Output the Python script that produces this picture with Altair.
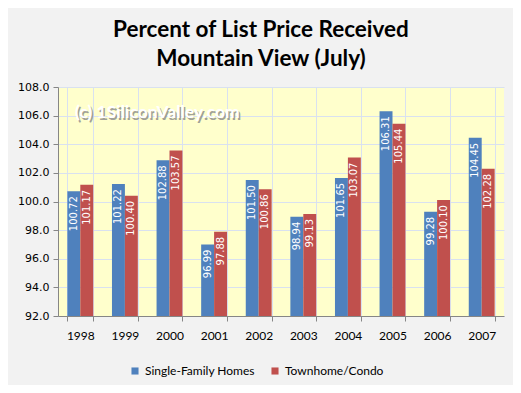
import altair as alt
import pandas as pd

years = ["1998", "1999", "2000", "2001", "2002", "2003", "2004", "2005", "2006", "2007"]
single_family = [100.72, 101.22, 102.88, 96.99, 101.50, 98.94, 101.65, 106.31, 99.28, 104.45]
townhome = [101.17, 100.40, 103.57, 97.88, 100.86, 99.13, 103.07, 105.44, 100.10, 102.28]
series_names = ["Single-Family Homes", "Townhome/Condo"]
series_colors = ["#4f81bd", "#c0504d"]
y_ticks = [92, 94, 96, 98, 100, 102, 104, 106, 108]
title_lines = ["Percent of List Price Received", "Mountain View (July)"]
watermark = ["(c) 1SiliconValley.com"]

rows = []
for i, yr in enumerate(years):
    rows.append({"year": yr, "series": series_names[0], "value": single_family[i]})
    rows.append({"year": yr, "series": series_names[1], "value": townhome[i]})
df = pd.DataFrame(rows)

grid_color = "#d9e1f0"
axis_color = "#868686"

x_axis = alt.Axis(labelAngle=0, tickBand="extent", grid=True, gridColor=grid_color,
                  labelFont="Lato", labelFontSize=12, labelColor="#000000",
                  labelPadding=9, tickColor=axis_color, tickSize=5,
                  domainColor=axis_color)
y_axis = alt.Axis(values=y_ticks, format=".1f", grid=True, gridColor=grid_color,
                  labelFont="DejaVu Sans", labelFontSize=11, labelColor="#000000",
                  tickColor=axis_color, tickSize=5, domainColor=axis_color,
                  labelPadding=4, labelOverlap=False)
x_scale = alt.Scale(paddingInner=0.42, paddingOuter=0.21)
y_scale = alt.Scale(domain=[92, 108], zero=False, nice=False)
xo_enc = alt.XOffset("series:N", sort=series_names)

base = alt.Chart(df)

bars = base.mark_bar().encode(
    x=alt.X("year:N", title=None, sort=years, scale=x_scale, axis=x_axis),
    xOffset=xo_enc,
    y=alt.Y("value:Q", title=None, scale=y_scale, axis=y_axis),
    y2=alt.datum(92),
    color=alt.Color("series:N", sort=series_names,
                    scale=alt.Scale(domain=series_names, range=series_colors),
                    legend=alt.Legend(title=None, orient="none", legendX=71, legendY=278,
                                      direction="horizontal", symbolType="square",
                                      symbolSize=50, symbolStrokeWidth=0,
                                      labelFont="Lato", labelFontSize=12,
                                      labelColor="#000000", columnPadding=14)),
)

labels = base.mark_text(angle=270, align="right", baseline="middle", dx=-5,
                        color="white", font="DejaVu Sans", fontSize=10).encode(
    x=alt.X("year:N", title=None, sort=years, scale=x_scale, axis=x_axis),
    xOffset=xo_enc,
    y=alt.Y("value:Q", title=None, scale=y_scale, axis=y_axis),
    text=alt.Text("value:Q", format=".2f"),
)

wm_df = pd.DataFrame({"t": watermark})
wm_shadow = alt.Chart(wm_df).mark_text(align="left", baseline="middle", font="Lato",
                                       fontWeight="bold", fontSize=17.5, color="#8a8a8a",
                                       opacity=0.8).encode(
    x=alt.value(18.5), y=alt.value(27.5), text="t:N")
wm = alt.Chart(wm_df).mark_text(align="left", baseline="middle", font="Lato",
                                fontWeight="bold", fontSize=17.5, color="#ffffff").encode(
    x=alt.value(17), y=alt.value(26), text="t:N")

chart = alt.layer(bars, labels, wm_shadow, wm).properties(
    width=446, height=229,
    padding={"left": 50, "top": 79, "right": 9, "bottom": 69},
    autosize="none",
    title=alt.TitleParams(title_lines, anchor="middle", dx=-20, dy=27, offset=20,
                          font="Lato", fontSize=22.5, fontWeight="bold",
                          color="#000000", lineHeight=29, baseline="alphabetic"),
).configure(background="#f2f2f2").configure_view(fill="#ffffcc", strokeWidth=0)

chart.save("out.html", embed_options={"renderer": "svg", "actions": False})
